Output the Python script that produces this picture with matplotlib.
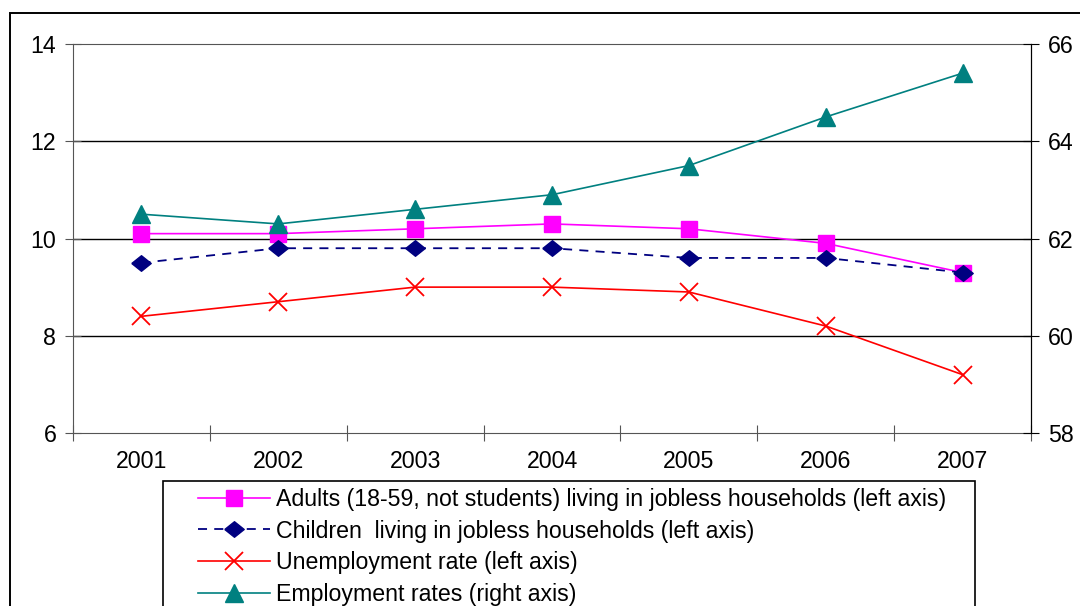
import matplotlib.pyplot as plt
from matplotlib.lines import Line2D
from matplotlib.patches import Rectangle

plt.rcParams['font.family'] = ['Liberation Sans', 'DejaVu Sans']

years = ['2001', '2002', '2003', '2004', '2005', '2006', '2007']
adults = [10.1, 10.1, 10.2, 10.3, 10.2, 9.9, 9.3]
children = [9.5, 9.8, 9.8, 9.8, 9.6, 9.6, 9.3]
unemployment = [8.4, 8.7, 9.0, 9.0, 8.9, 8.2, 7.2]
employment = [62.5, 62.3, 62.6, 62.9, 63.5, 64.5, 65.4]

labels = ['Adults (18-59, not students) living in jobless households (left axis)',
          'Children  living in jobless households (left axis)',
          'Unemployment rate (left axis)',
          'Employment rates (right axis)']

FS = 16.7
W, H = 1080, 606
fig = plt.figure(figsize=(W / 100, H / 100), dpi=100)
ax = fig.add_axes([73 / W, 1 - 433 / H, (1031 - 73) / W, (433 - 44) / H])

# outer chart border (cut by the image edge)
fig.patches.append(Rectangle((10 / W, -0.2), 1.2, 1.2 - 13 / H, transform=fig.transFigure,
                             fill=False, edgecolor='black', linewidth=1.4))

diamond = [(-1, 0), (0, 0.8), (1, 0), (0, -0.8), (-1, 0)]

adults_style = dict(color='#FF00FF', lw=1.2, marker='s', ms=12, mec='#FF00FF')
children_style = dict(color='#000080', lw=1.3, ls=(0, (5, 4)), marker=diamond, ms=14)
unemp_style = dict(color='#FF0000', lw=1.2, marker='x', ms=13, mew=1.3)
emp_style = dict(color='#008080', lw=1.2, marker='^', ms=13)

x = list(range(len(years)))
ax.plot(x, adults, zorder=3, **adults_style)
ax.plot(x, children, zorder=3, **children_style)
ax.plot(x, unemployment, zorder=3, **unemp_style)

ax.set_xlim(-0.5, 6.5)
ax.set_ylim(6, 14)
ax.set_yticks([6, 8, 10, 12, 14])
ax.set_xticks([i + 0.5 for i in range(-1, 7)])
ax.set_xticklabels([])
ax.set_xticks(x, minor=True)
ax.set_xticklabels(years, minor=True)
ax.tick_params(axis='x', which='minor', length=0, pad=12, labelsize=FS)
ax.tick_params(axis='x', which='major', direction='inout', length=11, color='#555555')
ax.tick_params(axis='y', direction='inout', length=12, labelsize=FS, pad=6, color='#555555')
for v in [8, 10, 12]:
    ax.axhline(v, color='black', lw=1, zorder=1)
for s in ['left', 'bottom', 'top']:
    ax.spines[s].set_color('#555555')
ax.spines['right'].set_color('black')

ax2 = ax.twinx()
ax2.plot(x, employment, zorder=4, **emp_style)
ax2.set_ylim(58, 66)
ax2.set_yticks([58, 60, 62, 64, 66])
ax2.tick_params(axis='y', direction='inout', length=12, labelsize=FS, pad=6)
for s in ['left', 'bottom', 'top']:
    ax2.spines[s].set_visible(False)
ax2.spines['right'].set_color('black')

# legend box (cut by the image edge)
fig.patches.append(Rectangle((163 / W, -0.2), (975 - 163) / W, 0.2 + 1 - 481 / H,
                             transform=fig.transFigure, fill=False,
                             edgecolor='black', linewidth=1.2))
handles = [Line2D([], [], **adults_style), Line2D([], [], **children_style),
           Line2D([], [], **unemp_style), Line2D([], [], **emp_style)]
leg = fig.legend(handles, labels, loc='upper left', bbox_to_anchor=(198 / W, 1 - 488 / H),
                 fontsize=FS, frameon=False, handlelength=72 / (FS * 100 / 72),
                 handletextpad=0.25, labelspacing=0.37, borderpad=0, borderaxespad=0)

fig.savefig('out.png', dpi=100)
